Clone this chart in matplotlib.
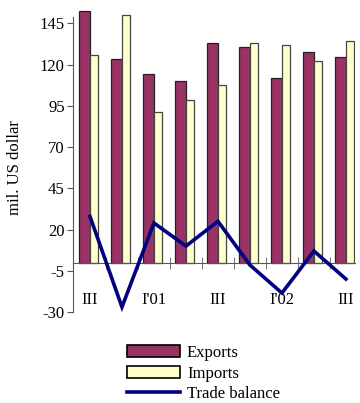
import numpy as np
import matplotlib.pyplot as plt
from matplotlib.patches import Patch
from matplotlib.lines import Line2D

plt.rcParams['font.family'] = ['Liberation Serif', 'DejaVu Serif']

quarters = ["III", "IV", "I'01", "II", "III", "IV", "I'02", "II", "III"]
exports = [152.3, 123.2, 114.6, 110.0, 132.9, 130.6, 112.2, 127.8, 124.5]
imports = [125.6, 150.0, 91.6, 98.8, 107.4, 132.9, 131.7, 122.1, 134.3]
balance = [28.0, -27.0, 24.0, 10.0, 25.0, -1.5, -18.5, 7.0, -10.0]
yticks = [-30, -5, 20, 45, 70, 95, 120, 145]

fig = plt.figure(figsize=(3.6, 4.03), dpi=100)
ax = fig.add_axes([0.2028, 0.2258, 0.783, 0.7568])

x = np.arange(len(quarters))
ax.bar(x, exports, width=-0.34, align='edge', color='#993366',
       edgecolor='#222222', linewidth=0.9, zorder=2)
ax.bar(x, imports, width=0.25, align='edge', color='#ffffcc',
       edgecolor='#444444', linewidth=0.9, zorder=2)
ax.plot(x, balance, color='#000080', linewidth=2.6, zorder=3,
        solid_joinstyle='miter')

ax.set_xlim(-0.53, 8.28)
ax.set_ylim(-30, 155)

for s in ['top', 'right']:
    ax.spines[s].set_visible(False)
ax.spines['bottom'].set_position(('data', 0))
ax.spines['left'].set_bounds(-30, 149)
ax.spines['left'].set_color('#555555')
ax.spines['bottom'].set_color('#555555')

ax.set_yticks(yticks)
ax.set_yticklabels([str(v) for v in yticks], fontsize=12)
ax.tick_params(axis='y', direction='out', length=4.5, pad=1.5, color='#555555')

ax.set_xticks(x[::2])
ax.set_xticklabels(quarters[::2], fontsize=12)
ax.set_xticks(np.arange(0.5, 8, 1), minor=True)
ax.tick_params(axis='x', which='major', length=0, pad=21)
ax.tick_params(axis='x', which='minor', direction='inout', length=8,
               color='#555555')

fig.text(15 / 360, 0.585, 'mil. US dollar', rotation=90, fontsize=12,
         ha='center', va='center')

handles = [Patch(facecolor='#993366', edgecolor='black', linewidth=1.2),
           Patch(facecolor='#ffffcc', edgecolor='black', linewidth=1.2),
           Line2D([0], [0], color='#000080', linewidth=2.6)]
fig.legend(handles, ['Exports', 'Imports', 'Trade balance'],
           loc='upper left', bbox_to_anchor=(127 / 360, 1 - 345 / 403),
           frameon=False, fontsize=12, handlelength=3.2, handleheight=0.75,
           handletextpad=0.4, labelspacing=0.28, borderpad=0, borderaxespad=0)

fig.savefig('out.png', dpi=100)
